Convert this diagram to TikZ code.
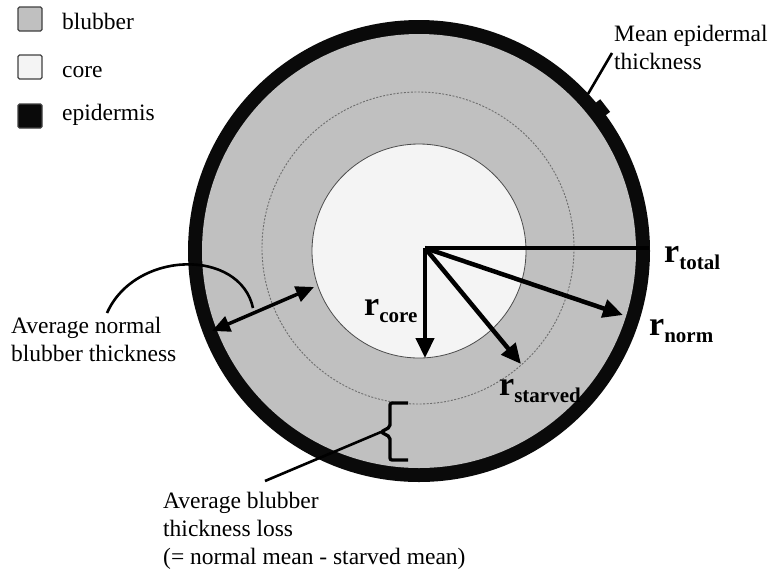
\documentclass[tikz,border=0pt]{standalone}
\usepackage{fontspec}
\setmainfont{Liberation Serif}
\usetikzlibrary{arrows.meta}

% radius label: big bold r with a lowered bold subscript
\newcommand{\rlab}[1]{{\fontsize{34}{34}\selectfont\bfseries r}\raisebox{-7pt}{\fontsize{21}{21}\selectfont\bfseries #1}}

\begin{document}
\begin{tikzpicture}[x=1pt,y=-1pt,
  lbl/.style={font=\fontsize{23.5}{28}\selectfont, align=left, inner sep=0pt},
  legbox/.style={draw=black!75, line width=1.2pt, minimum size=24pt, inner sep=0pt, rounded corners=1.5pt},
  radarrow/.style={line width=4.5pt, -{Triangle[length=20pt,width=18pt]}},
  pointer/.style={line width=2.6pt}]

% Colori
\definecolor{colBlub}{HTML}{C0C0C0}
\definecolor{colCore}{HTML}{F4F4F4}
\definecolor{colEpi}{HTML}{0A0A0A}
\definecolor{lineGray}{HTML}{6E6E6E}

% Raggi (px)
\def\rtot{231}
\def\rblub{217}
\def\rstarv{156}
\def\rcore{107}

\useasboundingbox (0,0) rectangle (776,574);

% Legenda
\node[legbox, fill=colBlub] (kBlub) at (30,19) {};
\node[legbox, fill=colCore] (kCore) at (30,67) {};
\node[legbox, fill=colEpi] (kEpi) at (30,116) {};
\node[lbl, anchor=base west] (tBlub) at (62,29) {blubber};
\node[lbl, anchor=base west] (tCore) at (62,77) {core};
\node[lbl, anchor=base west] (tEpi) at (62,120) {epidermis};

% Sezione
\coordinate (c) at (419,251);
\fill[colEpi] (c) circle (\rtot);
\fill[colBlub] (c) circle (\rblub);
\draw[lineGray, line width=0.9pt, dash pattern=on 2pt off 1.5pt] (418,248) circle (\rstarv);
\filldraw[fill=colCore, draw=black!70, line width=0.8pt] (c) circle (\rcore);

% spessore epidermide
\node[fill=colEpi, minimum width=16pt, minimum height=8pt, inner sep=0pt, rotate=-52] (bump) at (602,108) {};
\node[lbl, anchor=north west] (lblEpi) at (614,25) {Mean epidermal\\thickness};
\coordinate (epiTip) at (612,53);
\coordinate (epiRing) at (588,94);
\draw[pointer] (epiTip) -- (epiRing);

% Raggi
\coordinate (o) at (425,248);
\coordinate (eTot) at (649,248);
\coordinate (eNorm) at (623,315);
\coordinate (eStarv) at (521,364);
\coordinate (eCore) at (425,358);
\draw[line width=4.5pt] (o) -- (eTot);
\draw[radarrow] (o) -- (eNorm);
\draw[radarrow] (o) -- (eStarv);
\draw[radarrow] (o) -- (eCore);

\node[anchor=base west, inner sep=0pt] (lTot) at (664,262) {\rlab{total}};
\node[anchor=base west, inner sep=0pt] (lNorm) at (649,335) {\rlab{norm}};
\node[anchor=base west, inner sep=0pt] (lCore) at (364,315) {\rlab{core}};
\node[anchor=base west, inner sep=0pt] (lStarv) at (499,395) {\rlab{starved}};

% Spessore normale
\coordinate (nOut) at (212,331);
\coordinate (nIn) at (314,287);
\draw[line width=3.5pt, {Triangle[length=18pt,width=16pt]}-{Triangle[length=18pt,width=16pt]}] (nOut) -- (nIn);
\node[lbl, anchor=north west] (lblNorm) at (11,317) {Average normal\\blubber thickness};
\coordinate (nTip) at (107,313);
\coordinate (nEnd) at (253,308);
\draw[pointer] (nTip) .. controls (135,250) and (240,248) .. (nEnd);

% Perdita di spessore
\draw[line width=3.3pt, rounded corners=2pt] (408,403) -- (390,403) -- (390,427) -- (381,432) -- (390,437) -- (390,460) -- (408,460);
\coordinate (bTip) at (381,432);
\coordinate (bEnd) at (265,481);
\draw[pointer] (bTip) -- (bEnd);
\node[lbl, anchor=north west] (lblLoss) at (163,492) {Average blubber\\thickness loss\\(= normal mean - starved mean)};

\end{tikzpicture}
\end{document}
